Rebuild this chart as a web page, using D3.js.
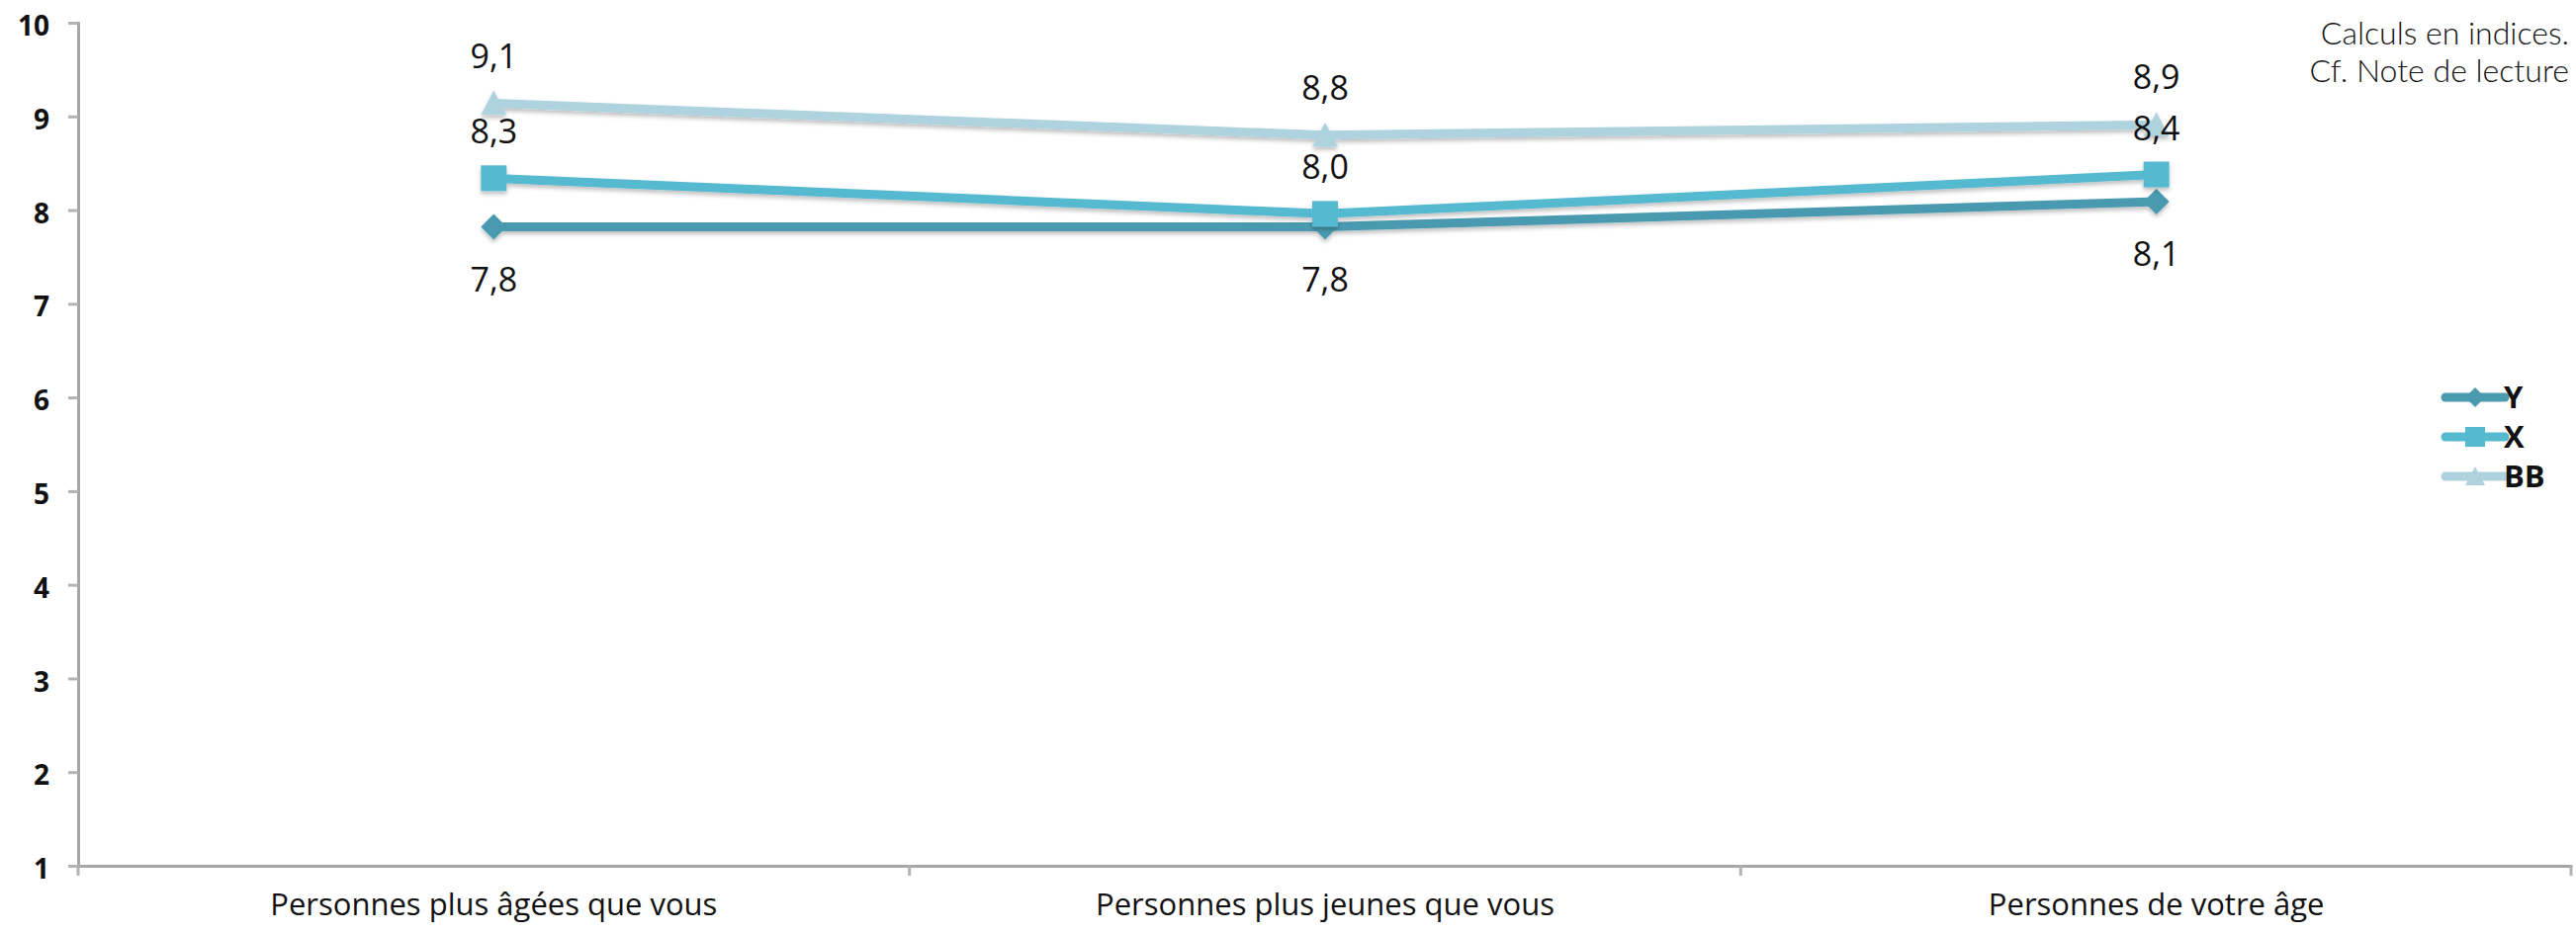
<!DOCTYPE html>
<html>
<head>
<meta charset="utf-8">
<script src="https://cdn.jsdelivr.net/npm/d3@7"></script>
<style>
  body { margin: 0; background: #fff; }
  svg { display: block; }
</style>
</head>
<body>
<svg id="chart"></svg>
<script>
// Chart data
const categories = ["Personnes plus âgées que vous", "Personnes plus jeunes que vous", "Personnes de votre âge"];
const seriesNames = ["Y", "X", "BB"];
const valuesY = [7.82, 7.82, 8.09];
const valuesX = [8.34, 7.96, 8.38];
const valuesBB = [9.14, 8.80, 8.91];
const yTicks = [1, 2, 3, 4, 5, 6, 7, 8, 9, 10];
const noteLines = ["Calculs en indices.", "Cf. Note de lecture"];

const width = 2605;
const height = 944;
const margin = { top: 23, right: 4, bottom: 68, left: 79 };

const colors = { Y: "#4a9ab0", X: "#55b9d0", BB: "#aed2de" };
const series = [
    { name: "Y", values: valuesY, shape: "diamond", labelDy: 56 },
    { name: "X", values: valuesX, shape: "square", labelDy: -44 },
    { name: "BB", values: valuesBB, shape: "triangle", labelDy: -45 }
];

const svg = d3.select("#chart")
    .attr("width", width)
    .attr("height", height);

// Drop shadow like the spreadsheet style
const defs = svg.append("defs");
defs.append("filter")
    .attr("id", "shadow")
    .attr("x", "-20%").attr("y", "-20%")
    .attr("width", "140%").attr("height", "160%")
    .append("feDropShadow")
    .attr("dx", 0).attr("dy", 3)
    .attr("stdDeviation", 2)
    .attr("flood-color", "#000")
    .attr("flood-opacity", 0.25);

// Scales
const x = d3.scaleBand()
    .domain(categories)
    .range([margin.left, width - margin.right])
    .padding(0);

const y = d3.scaleLinear()
    .domain([1, 10])
    .range([height - margin.bottom, margin.top]);

const cx = d => x(d) + x.bandwidth() / 2;

// Y axis
const yAxis = svg.append("g")
    .attr("transform", `translate(${margin.left},0)`)
    .call(d3.axisLeft(y).tickValues(yTicks).tickSize(10).tickPadding(19).tickFormat(d3.format("d")));
yAxis.select(".domain").attr("stroke", "#a6a6a6").attr("stroke-width", 3);
yAxis.selectAll(".tick line").attr("stroke", "#b3b3b3").attr("stroke-width", 3);
yAxis.selectAll(".tick text")
    .attr("dy", "0.45em")
    .style("font-family", "'Open Sans', sans-serif")
    .style("font-weight", 700)
    .style("font-size", "28px")
    .style("fill", "#111");

// X axis: labels centered, ticks at category boundaries
const xAxis = svg.append("g")
    .attr("transform", `translate(0,${y(1)})`)
    .call(d3.axisBottom(x).tickSize(0).tickPadding(28));
xAxis.select(".domain").attr("stroke", "#a6a6a6").attr("stroke-width", 3);
xAxis.selectAll(".tick text")
    .style("font-family", "'Open Sans', sans-serif")
    .style("font-weight", 500)
    .style("font-size", "31px")
    .style("fill", "#111");

const bounds = categories.map(c => x(c)).concat([x.range()[1] - 1]);
xAxis.selectAll(".bound")
    .data(bounds)
    .enter().append("line")
    .attr("class", "bound")
    .attr("x1", d => d).attr("x2", d => d)
    .attr("y1", 0).attr("y2", 10)
    .attr("stroke", "#b3b3b3")
    .attr("stroke-width", 3);

// Marker shapes
function markerPath(shape, s) {
    if (shape === "square") return `M${-s},${-s}H${s}V${s}H${-s}Z`;
    if (shape === "diamond") return `M0,${-s}L${s},0L0,${s}L${-s},0Z`;
    return `M0,${-s}L${s},${s * 0.9}L${-s},${s * 0.9}Z`;
}

const line = d3.line()
    .x((d, i) => cx(categories[i]))
    .y(d => y(d));

// Lines and markers
const groups = svg.selectAll(".series")
    .data(series)
    .enter().append("g")
    .attr("class", "series")
    .attr("filter", "url(#shadow)");

groups.append("path")
    .attr("d", d => line(d.values))
    .attr("fill", "none")
    .attr("stroke", d => colors[d.name])
    .attr("stroke-width", 9);

groups.selectAll(".marker")
    .data(d => d.values.map((v, i) => ({ v, i, s: d })))
    .enter().append("path")
    .attr("class", "marker")
    .attr("transform", d => `translate(${cx(categories[d.i])},${y(d.v)})`)
    .attr("d", d => markerPath(d.s.shape, 13))
    .attr("fill", d => colors[d.s.name]);

// Data labels
const fmt = v => d3.format(".1f")(v).replace(".", ",");
series.forEach(s => {
    svg.selectAll(null)
        .data(s.values)
        .enter().append("text")
        .attr("x", (d, i) => cx(categories[i]))
        .attr("y", d => y(d) + s.labelDy)
        .attr("text-anchor", "middle")
        .attr("dominant-baseline", "middle")
        .style("font-family", "'Open Sans', sans-serif")
        .style("font-weight", 500)
        .style("font-size", "34px")
        .style("fill", "#111")
        .text(d => fmt(d));
});

// Legend
const legend = svg.append("g")
    .attr("transform", "translate(2473,402)");
const legendRows = legend.selectAll("g")
    .data(series)
    .enter().append("g")
    .attr("transform", (d, i) => `translate(0,${i * 40})`);
legendRows.append("line")
    .attr("x1", 0).attr("x2", 60)
    .attr("stroke", d => colors[d.name])
    .attr("stroke-width", 9)
    .attr("stroke-linecap", "round");
legendRows.append("path")
    .attr("transform", "translate(30,0)")
    .attr("d", d => markerPath(d.shape, 10))
    .attr("fill", d => colors[d.name]);
legendRows.append("text")
    .attr("x", 59)
    .attr("dy", "0.36em")
    .style("font-family", "'Open Sans', sans-serif")
    .style("font-weight", 700)
    .style("font-size", "31px")
    .style("fill", "#111")
    .text(d => d.name);

// Note in the top right corner
svg.selectAll(".note")
    .data(noteLines)
    .enter().append("text")
    .attr("class", "note")
    .attr("x", 2598)
    .attr("y", (d, i) => 45 + i * 38)
    .attr("text-anchor", "end")
    .style("font-family", "Lato, sans-serif")
    .style("font-weight", 300)
    .style("font-size", "32px")
    .style("fill", "#111")
    .text(d => d);
</script>
</body>
</html>
